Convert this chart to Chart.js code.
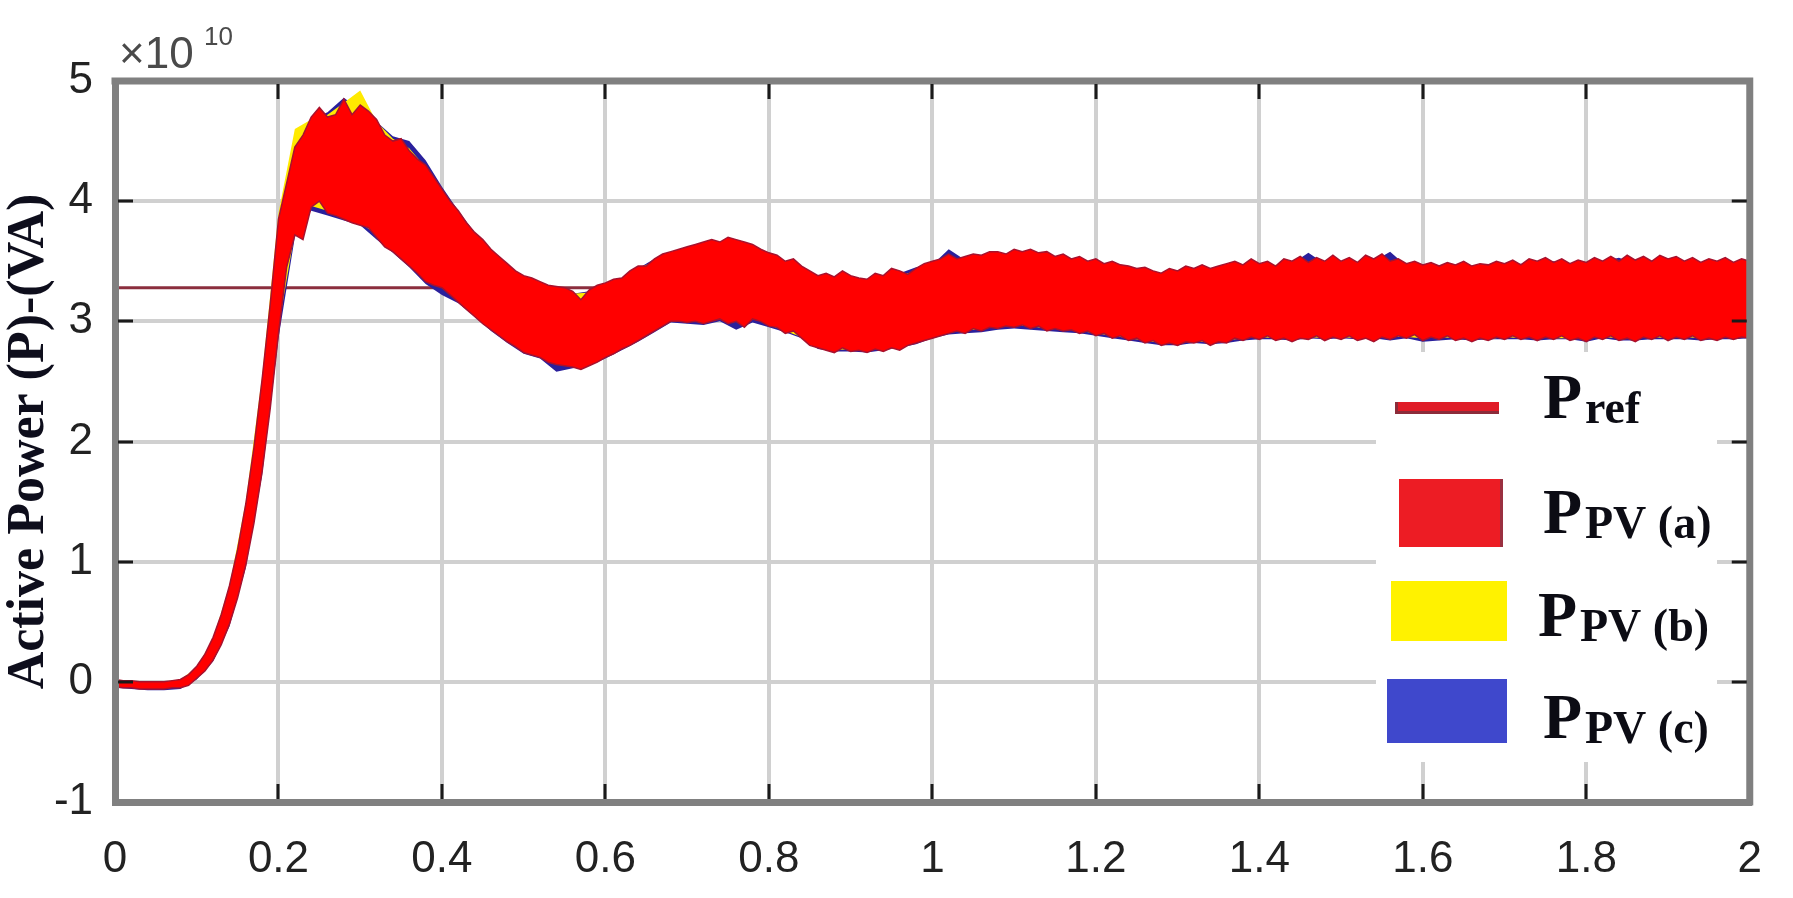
<!DOCTYPE html>
<html>
<head>
<meta charset="utf-8">
<title>Active Power (P)-(VA)</title>
<script src="https://cdn.jsdelivr.net/npm/chart.js@4.4.1/dist/chart.umd.min.js"></script>
<style>
  html, body { margin: 0; padding: 0; background: #fff; }
  canvas { display: block; }
</style>
</head>
<body>
<canvas id="chart" width="1793" height="898"></canvas>
<script>
// values in units of 1e10 VA, time in seconds
const xTicks = [0, 0.2, 0.4, 0.6, 0.8, 1, 1.2, 1.4, 1.6, 1.8, 2];
const yTicks = [-1, 0, 1, 2, 3, 4, 5];

const prefTime = [0, 2];
const prefValue = [3.28, 3.28];

// fine time base for P_PV(a)
const tFine = [
  0.00, 0.01, 0.02, 0.03, 0.04, 0.05, 0.06, 0.07, 0.08, 0.09,
  0.10, 0.11, 0.12, 0.13, 0.14, 0.15, 0.16, 0.17, 0.18, 0.19,
  0.20, 0.21, 0.22, 0.23, 0.24, 0.25, 0.26, 0.27, 0.28, 0.29,
  0.30, 0.31, 0.32, 0.33, 0.34, 0.35, 0.36, 0.37, 0.38, 0.39,
  0.40, 0.41, 0.42, 0.43, 0.44, 0.45, 0.46, 0.47, 0.48, 0.49,
  0.50, 0.51, 0.52, 0.53, 0.54, 0.55, 0.56, 0.57, 0.58, 0.59,
  0.60, 0.61, 0.62, 0.63, 0.64, 0.65, 0.66, 0.67, 0.68, 0.69,
  0.70, 0.71, 0.72, 0.73, 0.74, 0.75, 0.76, 0.77, 0.78, 0.79,
  0.80, 0.81, 0.82, 0.83, 0.84, 0.85, 0.86, 0.87, 0.88, 0.89,
  0.90, 0.91, 0.92, 0.93, 0.94, 0.95, 0.96, 0.97, 0.98, 0.99,
  1.00, 1.01, 1.02, 1.03, 1.04, 1.05, 1.06, 1.07, 1.08, 1.09,
  1.10, 1.11, 1.12, 1.13, 1.14, 1.15, 1.16, 1.17, 1.18, 1.19,
  1.20, 1.21, 1.22, 1.23, 1.24, 1.25, 1.26, 1.27, 1.28, 1.29,
  1.30, 1.31, 1.32, 1.33, 1.34, 1.35, 1.36, 1.37, 1.38, 1.39,
  1.40, 1.41, 1.42, 1.43, 1.44, 1.45, 1.46, 1.47, 1.48, 1.49,
  1.50, 1.51, 1.52, 1.53, 1.54, 1.55, 1.56, 1.57, 1.58, 1.59,
  1.60, 1.61, 1.62, 1.63, 1.64, 1.65, 1.66, 1.67, 1.68, 1.69,
  1.70, 1.71, 1.72, 1.73, 1.74, 1.75, 1.76, 1.77, 1.78, 1.79,
  1.80, 1.81, 1.82, 1.83, 1.84, 1.85, 1.86, 1.87, 1.88, 1.89,
  1.90, 1.91, 1.92, 1.93, 1.94, 1.95, 1.96, 1.97, 1.98, 1.99,
  2.00
];

// P_PV(a): upper and lower edge of the ripple band
const pvAHigh = [
  0.02, 0.01, 0.01, 0.00, 0.00, 0.00, 0.00, 0.01, 0.02, 0.06,
  0.13, 0.23, 0.37, 0.56, 0.80, 1.10, 1.48, 1.95, 2.52, 3.15,
  3.85, 4.15, 4.45, 4.55, 4.70, 4.78, 4.70, 4.72, 4.85, 4.72,
  4.80, 4.75, 4.68, 4.55, 4.50, 4.52, 4.42, 4.35, 4.30, 4.20,
  4.10, 4.00, 3.92, 3.82, 3.74, 3.68, 3.60, 3.54, 3.48, 3.42,
  3.38, 3.36, 3.33, 3.30, 3.29, 3.28, 3.25, 3.18, 3.26, 3.30,
  3.32, 3.35, 3.36, 3.42, 3.46, 3.46, 3.52, 3.56, 3.58, 3.60,
  3.62, 3.64, 3.66, 3.68, 3.66, 3.70, 3.68, 3.66, 3.64, 3.60,
  3.57, 3.55, 3.50, 3.52, 3.46, 3.42, 3.38, 3.40, 3.37, 3.42,
  3.38, 3.36, 3.35, 3.40, 3.38, 3.44, 3.42, 3.39, 3.44, 3.48,
  3.50, 3.52, 3.56, 3.52, 3.54, 3.56, 3.55, 3.58, 3.58, 3.56,
  3.60, 3.58, 3.60, 3.57, 3.58, 3.54, 3.56, 3.52, 3.54, 3.50,
  3.52, 3.48, 3.50, 3.47, 3.46, 3.44, 3.45, 3.42, 3.40, 3.44,
  3.42, 3.46, 3.44, 3.47, 3.44, 3.46, 3.48, 3.50, 3.47, 3.52,
  3.48, 3.50, 3.46, 3.52, 3.50, 3.54, 3.49, 3.53, 3.50, 3.55,
  3.50, 3.53, 3.49, 3.55, 3.52, 3.56, 3.50, 3.52, 3.48, 3.50,
  3.47, 3.49, 3.46, 3.49, 3.47, 3.50, 3.46, 3.48, 3.47, 3.50,
  3.48, 3.51, 3.47, 3.52, 3.50, 3.53, 3.49, 3.52, 3.48, 3.51,
  3.49, 3.53, 3.50, 3.54, 3.50, 3.55, 3.51, 3.54, 3.50, 3.55,
  3.52, 3.54, 3.50, 3.53, 3.49, 3.52, 3.50, 3.53, 3.49, 3.52,
  3.50
];
const pvALow = [
  -0.04, -0.05, -0.05, -0.06, -0.06, -0.06, -0.06, -0.05, -0.05, -0.03,
  0.03, 0.09, 0.18, 0.31, 0.48, 0.70, 0.97, 1.32, 1.75, 2.28,
  2.90, 3.45, 3.72, 3.68, 3.95, 4.00, 3.90, 3.88, 3.85, 3.82,
  3.80, 3.78, 3.70, 3.62, 3.58, 3.52, 3.46, 3.40, 3.33, 3.30,
  3.28, 3.22, 3.16, 3.10, 3.04, 2.98, 2.93, 2.88, 2.83, 2.79,
  2.74, 2.72, 2.70, 2.66, 2.64, 2.63, 2.62, 2.60, 2.63, 2.66,
  2.70, 2.73, 2.77, 2.80, 2.84, 2.88, 2.92, 2.96, 3.00, 3.00,
  2.99, 3.00, 2.98, 3.00, 3.02, 2.98, 3.00, 2.95, 3.02, 3.00,
  2.96, 2.95, 2.90, 2.92, 2.86, 2.80, 2.78, 2.76, 2.74, 2.78,
  2.75, 2.76, 2.74, 2.77, 2.75, 2.78, 2.76, 2.80, 2.82, 2.84,
  2.86, 2.88, 2.90, 2.92, 2.90, 2.94, 2.92, 2.95, 2.94, 2.96,
  2.95, 2.97, 2.94, 2.96, 2.92, 2.94, 2.92, 2.93, 2.90, 2.92,
  2.88, 2.90, 2.86, 2.88, 2.84, 2.86, 2.82, 2.84, 2.80, 2.82,
  2.80, 2.83, 2.82, 2.84, 2.80, 2.83, 2.82, 2.86, 2.84, 2.87,
  2.85, 2.88, 2.84, 2.86, 2.83, 2.86, 2.85, 2.88, 2.84, 2.87,
  2.85, 2.88, 2.84, 2.86, 2.83, 2.87, 2.85, 2.88, 2.86, 2.89,
  2.84, 2.87, 2.85, 2.88, 2.84, 2.86, 2.83, 2.86, 2.84, 2.87,
  2.85, 2.88, 2.85, 2.87, 2.84, 2.87, 2.85, 2.88, 2.84, 2.86,
  2.83, 2.87, 2.85, 2.88, 2.84, 2.86, 2.83, 2.87, 2.85, 2.88,
  2.84, 2.87, 2.85, 2.88, 2.84, 2.86, 2.84, 2.87, 2.85, 2.87,
  2.86
];

// coarser time base for P_PV(b) and P_PV(c)
const tCoarse = [
  0.00, 0.02, 0.04, 0.06, 0.08, 0.10, 0.12, 0.14, 0.16, 0.18,
  0.20, 0.22, 0.24, 0.26, 0.28, 0.30, 0.32, 0.34, 0.36, 0.38,
  0.40, 0.42, 0.44, 0.46, 0.48, 0.50, 0.52, 0.54, 0.56, 0.58,
  0.60, 0.62, 0.64, 0.66, 0.68, 0.70, 0.72, 0.74, 0.76, 0.78,
  0.80, 0.82, 0.84, 0.86, 0.88, 0.90, 0.92, 0.94, 0.96, 0.98,
  1.00, 1.02, 1.04, 1.06, 1.08, 1.10, 1.12, 1.14, 1.16, 1.18,
  1.20, 1.22, 1.24, 1.26, 1.28, 1.30, 1.32, 1.34, 1.36, 1.38,
  1.40, 1.42, 1.44, 1.46, 1.48, 1.50, 1.52, 1.54, 1.56, 1.58,
  1.60, 1.62, 1.64, 1.66, 1.68, 1.70, 1.72, 1.74, 1.76, 1.78,
  1.80, 1.82, 1.84, 1.86, 1.88, 1.90, 1.92, 1.94, 1.96, 1.98,
  2.00
];

const pvBHigh = [
  0.01, 0.00, 0.00, 0.00, 0.02, 0.12, 0.36, 0.80, 1.50, 2.55,
  3.90, 4.60, 4.68, 4.72, 4.82, 4.92, 4.66, 4.52, 4.44, 4.28,
  4.08, 3.90, 3.72, 3.58, 3.46, 3.36, 3.31, 3.27, 3.23, 3.24,
  3.30, 3.35, 3.44, 3.50, 3.56, 3.60, 3.62, 3.64, 3.64, 3.60,
  3.54, 3.48, 3.42, 3.38, 3.36, 3.37, 3.35, 3.36, 3.38, 3.42,
  3.47, 3.50, 3.51, 3.52, 3.54, 3.56, 3.56, 3.55, 3.52, 3.50,
  3.48, 3.46, 3.43, 3.42, 3.40, 3.41, 3.42, 3.43, 3.45, 3.46,
  3.46, 3.47, 3.47, 3.46, 3.48, 3.47, 3.47, 3.49, 3.47, 3.46,
  3.45, 3.45, 3.46, 3.45, 3.46, 3.47, 3.47, 3.47, 3.48, 3.47,
  3.47, 3.47, 3.48, 3.49, 3.48, 3.49, 3.48, 3.47, 3.47, 3.47,
  3.47
];
const pvBLow = [
  -0.04, -0.05, -0.05, -0.05, -0.04, 0.04, 0.19, 0.50, 1.00, 1.78,
  2.95, 3.74, 3.96, 3.92, 3.87, 3.82, 3.72, 3.60, 3.48, 3.35,
  3.30, 3.18, 3.06, 2.95, 2.85, 2.76, 2.72, 2.66, 2.64, 2.65,
  2.72, 2.79, 2.86, 2.94, 3.02, 3.01, 3.00, 3.03, 3.02, 3.03,
  2.97, 2.92, 2.87, 2.80, 2.76, 2.77, 2.76, 2.77, 2.78, 2.84,
  2.88, 2.92, 2.92, 2.94, 2.96, 2.97, 2.96, 2.94, 2.94, 2.92,
  2.90, 2.88, 2.86, 2.84, 2.82, 2.82, 2.84, 2.82, 2.84, 2.86,
  2.87, 2.86, 2.87, 2.87, 2.86, 2.87, 2.86, 2.88, 2.87, 2.87,
  2.86, 2.87, 2.86, 2.86, 2.85, 2.87, 2.86, 2.87, 2.86, 2.86,
  2.86, 2.87, 2.86, 2.86, 2.87, 2.86, 2.87, 2.86, 2.86, 2.87,
  2.87
];

const pvCHigh = [
  0.00, 0.00, -0.01, -0.01, 0.01, 0.12, 0.35, 0.78, 1.46, 2.50,
  3.82, 4.42, 4.68, 4.74, 4.86, 4.76, 4.66, 4.54, 4.50, 4.34,
  4.12, 3.92, 3.74, 3.58, 3.46, 3.36, 3.32, 3.27, 3.23, 3.25,
  3.30, 3.34, 3.44, 3.52, 3.56, 3.60, 3.64, 3.64, 3.64, 3.60,
  3.54, 3.49, 3.43, 3.37, 3.35, 3.36, 3.34, 3.37, 3.40, 3.45,
  3.47, 3.60, 3.51, 3.53, 3.55, 3.56, 3.56, 3.55, 3.52, 3.50,
  3.48, 3.46, 3.43, 3.42, 3.39, 3.41, 3.42, 3.43, 3.45, 3.46,
  3.47, 3.46, 3.48, 3.57, 3.48, 3.47, 3.48, 3.50, 3.58, 3.46,
  3.45, 3.45, 3.46, 3.45, 3.46, 3.47, 3.48, 3.47, 3.50, 3.47,
  3.47, 3.50, 3.53, 3.48, 3.50, 3.48, 3.50, 3.48, 3.48, 3.48,
  3.48
];
const pvCLow = [
  -0.05, -0.06, -0.07, -0.07, -0.06, 0.02, 0.17, 0.46, 0.95, 1.72,
  2.86, 3.70, 3.92, 3.88, 3.84, 3.80, 3.68, 3.57, 3.45, 3.31,
  3.22, 3.15, 3.04, 2.92, 2.82, 2.73, 2.69, 2.58, 2.61, 2.63,
  2.69, 2.76, 2.83, 2.91, 2.99, 2.98, 2.97, 3.00, 2.93, 2.99,
  2.95, 2.91, 2.86, 2.77, 2.75, 2.75, 2.74, 2.76, 2.78, 2.81,
  2.86, 2.89, 2.90, 2.91, 2.93, 2.94, 2.93, 2.92, 2.91, 2.90,
  2.88, 2.86, 2.84, 2.82, 2.80, 2.80, 2.82, 2.81, 2.82, 2.84,
  2.85, 2.85, 2.84, 2.86, 2.85, 2.86, 2.85, 2.86, 2.84, 2.86,
  2.83, 2.84, 2.85, 2.84, 2.85, 2.85, 2.85, 2.84, 2.85, 2.85,
  2.83, 2.86, 2.84, 2.84, 2.85, 2.85, 2.85, 2.84, 2.85, 2.85,
  2.86
];

const pts = (ts, vs) => ts.map((t, i) => ({ x: t, y: vs[i] }));

const band = (label, ts, lo, hi, fill, edge, width, order) => [
  { label: label + ' low', data: pts(ts, lo), borderColor: edge, borderWidth: width, backgroundColor: fill, fill: false, order },
  { label: label, data: pts(ts, hi), borderColor: edge, borderWidth: width, backgroundColor: fill, fill: '-1', order }
];

const legendRows = [
  { sub: 'ref',    kind: 'line', fill: '#e01c27', edge: '#8c2c3a', box: [1395, 402, 1499, 414], px: 1543, base: 418, sx: 1585, subBase: 423 },
  { sub: 'PV (a)', kind: 'box',  fill: '#ed1c24', edge: '#9a3040', box: [1399, 479, 1503, 547], px: 1543, base: 533, sx: 1585, subBase: 538 },
  { sub: 'PV (b)', kind: 'box',  fill: '#fff200', edge: null,      box: [1391, 581, 1507, 641], px: 1538, base: 636, sx: 1580, subBase: 641 },
  { sub: 'PV (c)', kind: 'box',  fill: '#3f48cc', edge: null,      box: [1387, 679, 1507, 743], px: 1543, base: 738, sx: 1585, subBase: 743 }
];

const frame = {
  id: 'frame',
  afterDatasetsDraw(chart) {
    const ctx = chart.ctx;
    ctx.save();
    // legend panel
    ctx.fillStyle = '#ffffff';
    ctx.fillRect(1376, 352, 341, 410);
    legendRows.forEach(r => {
      const [x0, y0, x1, y1] = r.box;
      ctx.fillStyle = r.fill;
      ctx.fillRect(x0, y0, x1 - x0, y1 - y0);
      if (r.kind === 'line') {
        ctx.fillStyle = r.edge;
        ctx.fillRect(x0, y1 - 3, x1 - x0, 3);
        ctx.fillRect(x0, y0, 3, y1 - y0);
      } else if (r.edge) {
        ctx.fillStyle = r.edge;
        ctx.fillRect(x1 - 3, y0, 3, y1 - y0);
      }
      ctx.fillStyle = '#0c0c14';
      ctx.textBaseline = 'alphabetic';
      ctx.textAlign = 'left';
      ctx.font = 'bold 64px "Liberation Serif"';
      ctx.fillText('P', r.px, r.base);
      ctx.font = 'bold 46px "Liberation Serif"';
      ctx.fillText(r.sub, r.sx, r.subBase);
    });
    ctx.restore();
  },
  afterDraw(chart) {
    const { ctx, chartArea: a, scales: { x, y } } = chart;
    ctx.save();
    // top and right box edges
    ctx.strokeStyle = '#808080';
    ctx.lineWidth = 7;
    ctx.beginPath();
    ctx.moveTo(a.left - 3.5, a.top);
    ctx.lineTo(a.right, a.top);
    ctx.lineTo(a.right, a.bottom + 3.5);
    ctx.stroke();
    // inward tick marks
    ctx.strokeStyle = '#1a1a1a';
    ctx.lineWidth = 3;
    ctx.beginPath();
    x.ticks.slice(1, -1).forEach(t => {
      const px = Math.round(x.getPixelForValue(t.value));
      ctx.moveTo(px, a.bottom - 3); ctx.lineTo(px, a.bottom - 18);
      ctx.moveTo(px, a.top + 3); ctx.lineTo(px, a.top + 18);
    });
    y.ticks.slice(1, -1).forEach(t => {
      const py = Math.round(y.getPixelForValue(t.value));
      ctx.moveTo(a.left + 3, py); ctx.lineTo(a.left + 18, py);
      ctx.moveTo(a.right - 3, py); ctx.lineTo(a.right - 18, py);
    });
    ctx.stroke();
    // exponent label
    ctx.fillStyle = '#4a4a4a';
    ctx.textAlign = 'left';
    ctx.textBaseline = 'alphabetic';
    ctx.font = '44px "Liberation Sans"';
    ctx.fillText('\u00d710', 119, 68);
    ctx.font = '26px "Liberation Sans"';
    ctx.fillText('10', 204, 45);
    ctx.restore();
  }
};

const tickFont = { family: 'Liberation Sans', size: 44 };

new Chart(document.getElementById('chart'), {
  type: 'line',
  data: {
    datasets: [
      { label: 'Pref', data: pts(prefTime, prefValue), borderColor: '#8b2e3e', borderWidth: 3, fill: false, order: 10 },
      ...band('PPV (c)', tCoarse, pvCLow, pvCHigh, '#2a209c', '#2a209c', 0, 9),
      ...band('PPV (b)', tCoarse, pvBLow, pvBHigh, '#ffea00', '#ffea00', 0, 8),
      ...band('PPV (a)', tFine, pvALow, pvAHigh, '#ff0000', '#a8122e', 1.5, 7)
    ]
  },
  options: {
    responsive: false,
    maintainAspectRatio: false,
    animation: false,
    devicePixelRatio: 1,
    elements: { point: { radius: 0 }, line: { tension: 0 } },
    layout: { padding: { top: 81, right: 25, left: 0, bottom: 0 } },
    plugins: {
      legend: { display: false },
      tooltip: { enabled: false }
    },
    scales: {
      x: {
        type: 'linear',
        min: 0,
        max: 2,
        afterBuildTicks: s => { s.ticks = xTicks.map(v => ({ value: v })); },
        afterFit: s => { s.height = 96; },
        ticks: {
          autoSkip: false,
          maxRotation: 0,
          padding: 31,
          color: '#222222',
          font: tickFont,
          callback: v => String(Math.round(v * 10) / 10)
        },
        grid: { color: '#d0d0d0', lineWidth: 4, drawTicks: false },
        border: { color: '#808080', width: 7, z: 1 }
      },
      y: {
        min: -1,
        max: 5,
        afterBuildTicks: s => { s.ticks = yTicks.map(v => ({ value: v })); },
        afterFit: s => { s.width = 115; },
        ticks: {
          padding: 22,
          color: '#222222',
          font: tickFont,
          callback: v => String(v)
        },
        grid: { color: '#d0d0d0', lineWidth: 4, drawTicks: false },
        border: { color: '#808080', width: 7, z: 1 },
        title: {
          display: true,
          text: 'Active Power (P)-(VA)',
          color: '#0e0e1c',
          font: { family: 'Liberation Serif', size: 52, weight: 'bold', lineHeight: 1 },
          padding: { top: 4, bottom: 0 }
        }
      }
    }
  },
  plugins: [frame]
});
</script>
</body>
</html>
